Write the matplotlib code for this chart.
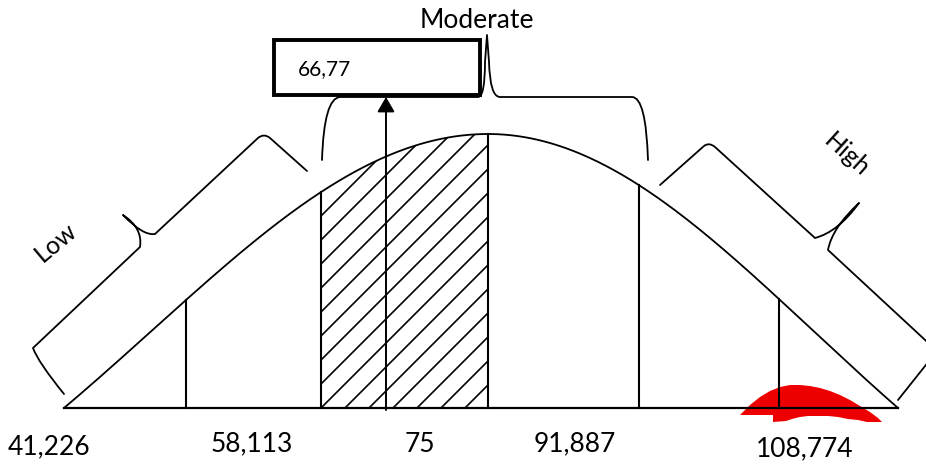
import numpy as np
import matplotlib
matplotlib.use('Agg')
import matplotlib.pyplot as plt
from matplotlib.path import Path
from matplotlib.patches import PathPatch, Rectangle, Polygon

''' Data '''
tick_labels = ['41,226', '58,113', '75', '91,887', '108,774']
box_value = '66,77'
group_labels = ['Low', 'Moderate', 'High']

''' Layout (pixel coordinates, y downwards) '''
W, H = 926, 466
BASE_Y = 408
LEFT_X, PEAK_X, RIGHT_X = 64, 488, 898
PEAK_Y = 134
divider_x = [186, 321, 488, 639, 779]
arrow_x = 386
label_pos = [(49, 447), (252, 444), (420, 445), (575, 444), (805, 449)]

# red blob near the right end of the axis
red_x = [740, 750, 760, 770, 780, 790, 800, 810, 820, 830, 840, 850, 860, 870, 878, 882,
         867, 858, 848, 838, 828, 818, 808, 800, 792, 786, 773, 773]
red_y = [415, 405, 397, 391, 387, 385, 385, 386, 388, 391, 395, 400, 406, 412, 418, 422,
         422, 420, 419, 417, 416, 416, 416, 417, 419, 421, 422, 415]


def bell_y(x, k=0.8):
    """Bell shaped curve touching the baseline at both ends."""
    x = np.asarray(x, dtype=float)
    half = np.where(x < PEAK_X, PEAK_X - LEFT_X, RIGHT_X - PEAK_X)
    t = (x - PEAK_X) / half
    f = (np.exp(-k * t ** 2) - np.exp(-k)) / (1 - np.exp(-k))
    return BASE_Y - (BASE_Y - PEAK_Y) * f


def draw_path(ax, verts, codes, lw=1.3, zorder=3):
    patch = PathPatch(Path(verts, codes), facecolor='none', edgecolor='black',
                      lw=lw, zorder=zorder, capstyle='round', joinstyle='round')
    ax.add_patch(patch)


fig = plt.figure(figsize=(W / 100, H / 100), dpi=100)
ax = fig.add_axes([0, 0, 1, 1])
ax.set_xlim(0, W)
ax.set_ylim(H, 0)
ax.axis('off')

FONT = ['Lato', 'DejaVu Sans']

# red shape (below the lines)
ax.add_patch(Polygon(np.column_stack([red_x, red_y]), closed=True,
                     facecolor='#ee0000', edgecolor='none', zorder=1))

# bell curve
xs = np.linspace(LEFT_X, RIGHT_X, 600)
ys = bell_y(xs)
ax.plot(xs, ys, color='black', lw=1.3, zorder=3)

# baseline
ax.plot([LEFT_X, RIGHT_X], [BASE_Y, BASE_Y], color='black', lw=1.6, zorder=3)

# hatched area between the 2nd and 3rd divider
x0, x1 = divider_x[1], divider_x[2]
hx = np.linspace(x0, x1, 200)
hatch_poly = Polygon(np.column_stack([np.r_[hx, x1, x0], np.r_[bell_y(hx), BASE_Y, BASE_Y]]),
                     closed=True, facecolor='none', edgecolor='none')
ax.add_patch(hatch_poly)
for c in np.arange(x0 + BASE_Y - 240, x1 + BASE_Y + 40, 24):
    ln, = ax.plot([c - BASE_Y - 20, c - 100], [BASE_Y + 20, 100], color='black', lw=1.2, zorder=2)
    ln.set_clip_path(hatch_poly)

# dividers from the baseline up to the curve
for dx in divider_x:
    ax.plot([dx, dx], [BASE_Y, bell_y(dx)], color='black', lw=1.5, zorder=3)

# value box
ax.add_patch(Rectangle((274, 40), 206, 55, facecolor='white', edgecolor='black',
                       lw=2.8, zorder=5))
ax.text(298, 69, box_value, fontsize=15, family=FONT, ha='left', va='center', zorder=6)

# arrow up to the box
ax.annotate('', xy=(arrow_x, 97), xytext=(arrow_x, BASE_Y + 2),
            arrowprops=dict(arrowstyle='-|>,head_length=0.6,head_width=0.35',
                            mutation_scale=15, color='black', lw=1.4,
                            shrinkA=0, shrinkB=0), zorder=4)

M, L, C = Path.MOVETO, Path.LINETO, Path.CURVE3

# Low brace
draw_path(ax,
          [(64, 394), (38, 362), (33, 348), (140, 247), (143, 228), (123, 215),
           (143, 236), (155, 234), (258, 138), (264, 133), (270, 138), (307, 171)],
          [M, C, C, L, C, C, C, C, L, C, C, L])

# Moderate brace
draw_path(ax,
          [(322, 160), (324, 98), (340, 97), (478, 97), (485, 97), (485, 62), (487, 35),
           (489, 62), (490, 97), (500, 97), (632, 97), (646, 97), (648, 160)],
          [M, C, C, L, C, C, L, L, C, C, L, C, C])

# High brace (runs past the right edge)
draw_path(ax,
          [(660, 185), (704, 146), (709, 142), (715, 147), (815, 238), (838, 232), (859, 203),
           (832, 228), (828, 250), (937, 351), (898, 400)],
          [M, L, C, C, L, C, C, C, C, L, L])

# group labels
ax.text(56, 242, group_labels[0], fontsize=18, family=FONT, rotation=40,
        ha='center', va='center', rotation_mode='anchor')
ax.text(477, 20, group_labels[1], fontsize=19, family=FONT, ha='center', va='center')
ax.text(847, 155, group_labels[2], fontsize=18, family=FONT, rotation=-42,
        ha='center', va='center', rotation_mode='anchor')

# axis labels
for lab, (lx, ly) in zip(tick_labels, label_pos):
    ax.text(lx, ly, lab, fontsize=19, family=FONT, ha='center', va='center')

fig.savefig('out.png', dpi=100)
